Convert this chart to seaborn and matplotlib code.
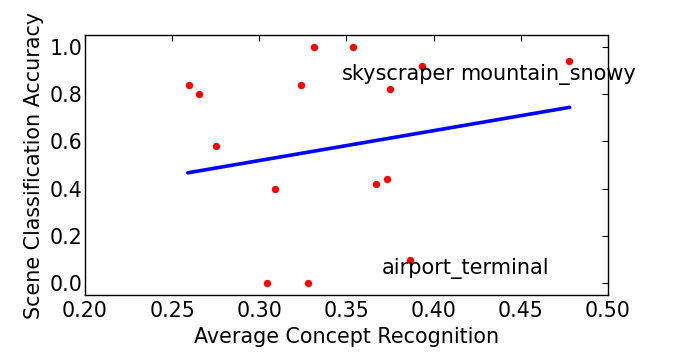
import matplotlib
matplotlib.use("Agg")
import matplotlib.pyplot as plt
import seaborn as sns
import pandas as pd

# concept recognition vs scene accuracy, one point per scene
concept_recognition = [0.2596, 0.2655, 0.2749, 0.3091, 0.3240, 0.3314, 0.3539, 0.3044,
                       0.3278, 0.3669, 0.3935, 0.3749, 0.3733, 0.3867, 0.4777]
scene_accuracy = [0.84, 0.80, 0.58, 0.40, 0.84, 1.00, 1.00, 0.00,
                  0.00, 0.42, 0.92, 0.82, 0.44, 0.10, 0.94]

# fitted trend line (end points)
fit_x = [0.259, 0.478]
fit_y = [0.467, 0.744]

# labelled scenes and where their names sit
label_names = ["skyscraper", "mountain_snowy", "airport_terminal"]
label_x = [0.3475, 0.4154, 0.3703]
label_y = [0.859, 0.859, 0.039]

df = pd.DataFrame({"x": concept_recognition, "y": scene_accuracy})

sns.set_style("white")
plt.rcParams["font.family"] = ["DejaVu Sans"]
plt.rcParams["text.color"] = "black"
plt.rcParams["axes.labelcolor"] = "black"
plt.rcParams["xtick.color"] = "black"
plt.rcParams["ytick.color"] = "black"

fig = plt.figure(figsize=(6.76, 3.52), dpi=100)
ax = fig.add_axes([0.1257, 0.1619, 0.7737, 0.7387])

sns.scatterplot(data=df, x="x", y="y", ax=ax, color="#ff0000", s=28, linewidth=0, zorder=3)
sns.lineplot(x=fit_x, y=fit_y, ax=ax, color="#0000ff", linewidth=2.6, zorder=2)

for name, tx, ty in zip(label_names, label_x, label_y):
    ax.text(tx, ty, name, fontsize=15, ha="left", va="baseline", zorder=4)

ax.set_xlim(0.2, 0.5)
ax.set_ylim(-0.05, 1.05)
ax.set_xticks([0.20, 0.25, 0.30, 0.35, 0.40, 0.45, 0.50])
ax.set_yticks([0.0, 0.2, 0.4, 0.6, 0.8, 1.0])
ax.set_xticklabels(["0.20", "0.25", "0.30", "0.35", "0.40", "0.45", "0.50"])
ax.set_yticklabels(["0.0", "0.2", "0.4", "0.6", "0.8", "1.0"])
ax.tick_params(direction="in", length=4, width=0.8, top=True, right=True,
               labelsize=14.8)
ax.tick_params(axis="x", pad=4.5)
ax.tick_params(axis="y", pad=1.8)
for sp in ax.spines.values():
    sp.set_color("black")
    sp.set_linewidth(1)
    sp.set_visible(True)

ax.set_xlabel("Average Concept Recognition", fontsize=14.9, labelpad=4)
ax.set_ylabel("Scene Classification Accuracy", fontsize=14.9, labelpad=4)

fig.savefig("out.png", dpi=100, facecolor="white")
